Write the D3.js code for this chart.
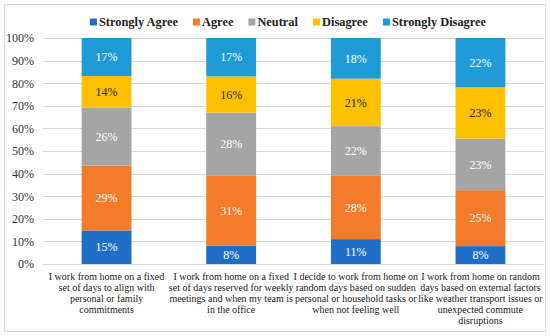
<!DOCTYPE html>
<html>
<head>
<meta charset="utf-8">
<script src="https://cdn.jsdelivr.net/npm/d3@7"></script>
<style>
  body { margin: 0; background: #fff; }
</style>
</head>
<body>
<script>
const w = 550;
const h = 336;
const serif = "Liberation Serif";

// data
const categories = [
  ["I work from home on a fixed", "set of days to align with", "personal or family", "commitments"],
  ["I work from home on a fixed", "set of days reserved for weekly", "meetings and when my team is", "in the office"],
  ["I decide to work from home on", "random days based on sudden", "personal or household tasks or", "when not feeling well"],
  ["I work from home on random", "days based on external factors", "like weather transport issues or", "unexpected commute", "disruptions"]
];
const seriesNames = ["Strongly Agree", "Agree", "Neutral", "Disagree", "Strongly Disagree"];
const stronglyAgree = [15, 8, 11, 8];
const agree = [29, 31, 28, 25];
const neutral = [26, 28, 22, 23];
const disagree = [14, 16, 21, 23];
const stronglyDisagree = [17, 17, 18, 22];
const yTicks = [0, 0.1, 0.2, 0.3, 0.4, 0.5, 0.6, 0.7, 0.8, 0.9, 1];

const colors = ["#1f6fc9", "#f47b2a", "#a5a5a5", "#ffc000", "#1e9bd7"];
const labelColors = ["#fff", "#fff", "#fff", "#222", "#fff"];

const series = [stronglyAgree, agree, neutral, disagree, stronglyDisagree];

// build rows, normalised to 100% like the stacked percent chart
const rows = categories.map(function(c, i){
  const row = { idx: i };
  let total = 0;
  series.forEach(function(s){ total += s[i]; });
  seriesNames.forEach(function(n, k){
    row[n] = series[k][i] / total;
    row[n + "_raw"] = series[k][i];
  });
  return row;
});

const margin = { top: 38, bottom: 72, left: 43, right: 6 };
const width = w - margin.left - margin.right;
const height = h - margin.top - margin.bottom;

const svg = d3.select("body").append("svg")
  .attr("width", w)
  .attr("height", h)
  .attr("font-family", serif);

// outer frame
svg.append("rect")
  .attr("x", 4.5).attr("y", 4.5)
  .attr("width", w - 9).attr("height", h - 9)
  .attr("fill", "#fff")
  .attr("stroke", "#d9d9d9");

const chart = svg.append("g")
  .attr("transform", "translate(" + margin.left + "," + margin.top + ")");

const x = d3.scaleBand()
  .domain(d3.range(categories.length))
  .range([0, width])
  .paddingInner(0.6)
  .paddingOuter(0.31);

const y = d3.scaleLinear()
  .domain([0, 1])
  .range([height, 0]);

// gridlines
chart.append("g")
  .selectAll("line")
  .data(yTicks)
  .enter()
    .append("line")
    .attr("x1", 0)
    .attr("x2", width)
    .attr("y1", d => Math.round(y(d)) + 0.5)
    .attr("y2", d => Math.round(y(d)) + 0.5)
    .attr("stroke", "#d9d9d9");

// y axis
const yAxis = d3.axisLeft(y)
  .tickValues(yTicks)
  .tickFormat(d3.format(".0%"))
  .tickSize(0)
  .tickPadding(9);

chart.append("g")
  .classed("y axis", true)
  .call(yAxis)
  .attr("font-family", serif)
  .attr("font-size", 12)
  .call(g => g.select(".domain").remove())
  .selectAll("text")
  .attr("fill", "#333");

// stacked bars
const stack = d3.stack().keys(seriesNames);
const stacked = stack(rows);

const layers = chart.selectAll(".layer")
  .data(stacked)
  .enter()
    .append("g")
    .classed("layer", true)
    .attr("fill", (d, i) => colors[i]);

layers.selectAll("rect")
  .data(d => d)
  .enter()
    .append("rect")
    .attr("x", d => x(d.data.idx))
    .attr("y", d => y(d[1]))
    .attr("width", x.bandwidth())
    .attr("height", d => y(d[0]) - y(d[1]));

// value labels
layers.each(function(layer, k){
  d3.select(this).selectAll("text")
    .data(layer)
    .enter()
      .append("text")
      .attr("x", d => x(d.data.idx) + x.bandwidth() / 2)
      .attr("y", d => (y(d[0]) + y(d[1])) / 2)
      .attr("dy", "0.35em")
      .attr("text-anchor", "middle")
      .attr("font-size", 12)
      .attr("fill", labelColors[k])
      .text(d => d.data[seriesNames[k] + "_raw"] + "%");
});

// category labels
const xl = chart.append("g")
  .attr("transform", "translate(0," + height + ")");

categories.forEach(function(lines, i){
  const t = xl.append("text")
    .attr("x", x(i) + x.bandwidth() / 2)
    .attr("y", 16)
    .attr("text-anchor", "middle")
    .attr("font-size", 10)
    .attr("fill", "#222");
  lines.forEach(function(l, j){
    t.append("tspan")
      .attr("x", x(i) + x.bandwidth() / 2)
      .attr("dy", j === 0 ? 0 : 11.1)
      .text(l);
  });
});

// legend, laid out left to right then centred
const legend = svg.append("g");
let lx = 0;
seriesNames.forEach(function(n, i){
  const g = legend.append("g").attr("transform", "translate(" + lx + ",0)");
  g.append("rect")
    .attr("x", 0).attr("y", -3.5)
    .attr("width", 7).attr("height", 7)
    .attr("fill", colors[i]);
  const t = g.append("text")
    .attr("x", 9)
    .attr("y", 0)
    .attr("dy", "0.35em")
    .attr("font-size", 12.4)
    .attr("font-weight", "bold")
    .attr("fill", "#222")
    .text(n);
  lx += 9 + t.node().getComputedTextLength() + 15;
});
lx -= 15;
legend.attr("transform", "translate(" + (288 - lx / 2) + ",22)");
</script>
</body>
</html>
